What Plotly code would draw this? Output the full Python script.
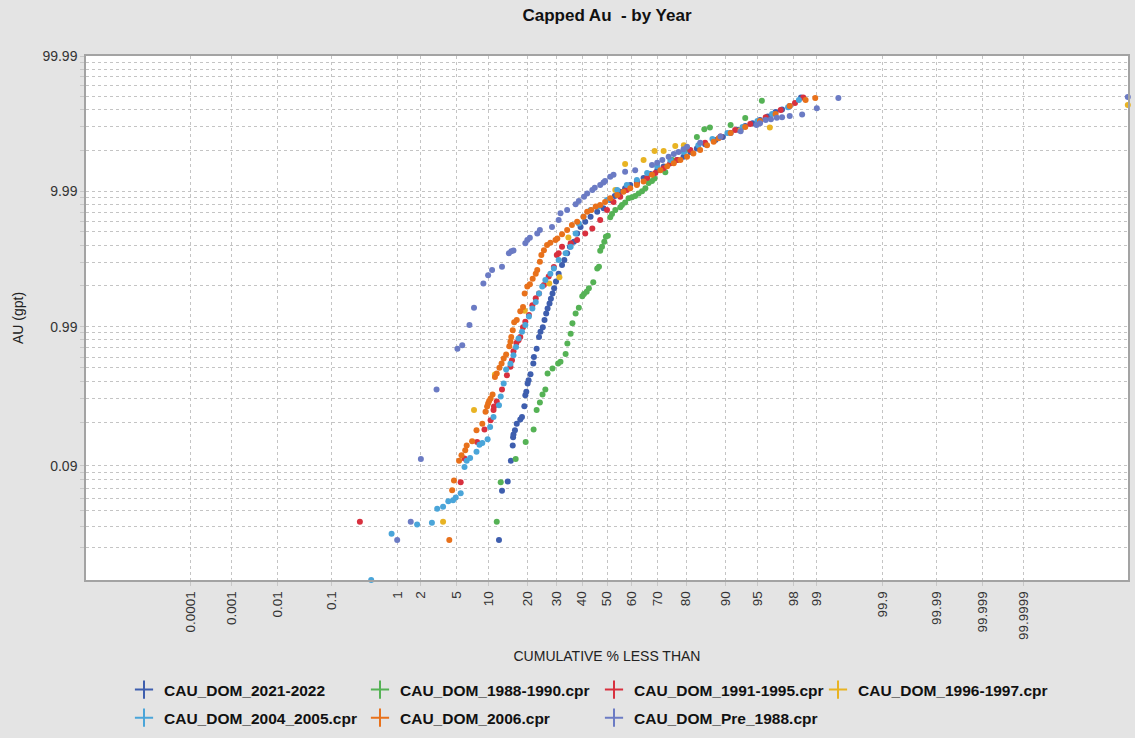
import math
from statistics import NormalDist

import numpy as np
import plotly.graph_objects as go

# ---------------------------------------------------------------------------
# Cumulative probability data: % of samples less than, and capped Au (gpt)
# ---------------------------------------------------------------------------
cum_2021_2022 = [12.2, 12.9, 14.3, 15.1, 15.6, 15.7, 15.8, 16.2, 16.7, 17.7,
                 18.2, 18.9, 19.2, 19.5, 19.9, 20.2, 20.8, 21.7, 21.9, 22.8,
                 23.6, 24.1, 24.9, 25.5, 26.1, 26.6, 27.3, 27.8, 28.4, 29.0,
                 29.7, 30.7, 32.0, 32.9, 34.0, 35.1, 36.7, 38.0, 39.4, 41.3,
                 43.5, 46.2, 48.7, 51.2, 53.0, 55.2, 57.2, 59.3, 62.0, 64.7,
                 67.4, 70.0, 72.4, 74.8, 77.1, 79.2, 81.3, 83.2, 85.4, 87.9,
                 89.5, 91.0, 92.3, 93.4, 94.4, 95.3, 96.1, 96.8, 97.3, 97.8,
                 98.4]
au_2021_2022 = [0.023, 0.0575, 0.068, 0.098, 0.128, 0.148, 0.155, 0.167, 0.187, 0.201,
                0.21, 0.253, 0.306, 0.325, 0.375, 0.396, 0.44, 0.528, 0.59, 0.68,
                0.83, 0.91, 0.98, 1.11, 1.24, 1.35, 1.47, 1.60, 1.75, 1.91,
                2.14, 2.45, 2.84, 3.09, 3.47, 3.87, 4.23, 4.87, 5.44, 5.93,
                6.47, 7.05, 7.47, 8.59, 9.2, 9.9, 10.5, 11.1, 11.8, 12.5,
                13.4, 14.3, 15.2, 16.1, 17.0, 18.0, 19.5, 20.7, 22.2, 23.9,
                25.2, 26.9, 28.5, 30.3, 31.8, 33.6, 35.7, 38.5, 40.2, 42.6,
                49.4]

cum_1988_1990 = [11.7, 12.6, 16.4, 19.3, 21.8, 22.8, 23.9, 24.8, 25.8, 26.6,
                 28.4, 30.5, 31.4, 33.4, 34.1, 35.4, 36.1, 37.4, 38.7, 40.1,
                 40.8, 41.9, 42.8, 44.6, 46.2, 46.9, 47.4, 48.1, 49.0, 49.6,
                 50.3, 51.2, 51.9, 53.2, 55.2, 55.9, 57.2, 58.6, 60.0, 61.3,
                 62.7, 64.1, 65.4, 66.7, 68.0, 69.0, 73.0, 75.5, 79.7, 83.2,
                 85.2, 86.6, 91.0, 93.4, 95.5]
au_1988_1990 = [0.0325, 0.067, 0.101, 0.136, 0.169, 0.237, 0.27, 0.31, 0.338, 0.445,
                0.485, 0.528, 0.543, 0.62, 0.745, 0.88, 1.05, 1.24, 1.37, 1.67,
                1.73, 1.80, 1.91, 2.12, 2.68, 2.76, 3.62, 3.87, 4.23, 4.60,
                4.67, 6.40, 6.77, 7.25, 7.60, 7.89, 8.26, 8.85, 9.0, 9.2,
                9.6, 10.0, 10.5, 11.5, 11.9, 12.4, 13.8, 17.0, 20.2, 25.2,
                28.7, 29.6, 30.9, 34.8, 46.6]

cum_1991_1995 = [0.29, 5.5, 6.0, 7.9, 9.2, 10.4, 11.0, 11.1, 11.7, 12.9,
                 14.1, 15.0, 15.4, 15.8, 16.6, 17.2, 17.7, 18.5, 19.2, 20.3,
                 21.4, 22.5, 23.6, 25.3, 27.0, 28.9, 30.0, 30.7, 32.0, 35.4,
                 38.0, 41.3, 44.2, 47.4, 50.0, 52.5, 55.2, 57.9, 62.0, 66.1,
                 69.3, 72.4, 74.8, 77.1, 81.3, 85.4, 89.0, 91.8, 94.1, 95.9,
                 97.2, 98.1, 98.5]
au_1991_1995 = [0.0325, 0.067, 0.102, 0.136, 0.169, 0.199, 0.237, 0.252, 0.275, 0.338,
                0.432, 0.499, 0.559, 0.65, 0.75, 0.787, 0.83, 0.98, 1.08, 1.21,
                1.43, 1.61, 1.75, 2.02, 2.33, 2.75, 3.37, 3.47, 3.87, 4.11,
                4.35, 4.87, 5.30, 6.11, 7.25, 8.33, 9.1, 10.2, 11.4, 12.5,
                13.6, 14.8, 16.1, 17.0, 20.2, 22.8, 25.4, 28.3, 31.4, 35.3,
                39.8, 44.9, 49.4]

cum_1996_1997 = [3.6, 7.4, 11.3, 19.0, 27.2, 31.0, 34.5, 53.2, 57.2, 64.7,
                 69.0, 72.4, 76.5, 79.3, 92.7, 96.3, 99.9999999]
au_1996_1997 = [0.0325, 0.237, 0.437, 1.30, 2.07, 2.31, 4.54, 10.2, 15.9, 17.0,
                19.8, 19.8, 21.6, 21.9, 28.3, 29.6, 43.4]

cum_2004_2005 = [0.43, 0.84, 1.8, 2.7, 3.1, 3.6, 4.1, 4.6, 4.9, 5.5,
                 6.0, 6.3, 6.8, 7.8, 8.3, 8.8, 9.8, 10.3, 11.0, 12.2,
                 12.6, 13.3, 13.9, 15.0, 15.8, 16.5, 17.2, 18.2, 19.2, 20.3,
                 21.4, 22.5, 23.6, 24.7, 25.8, 27.6, 28.9, 30.7, 33.4, 35.4,
                 37.4, 38.7, 40.6, 43.5, 46.7, 50.0, 54.0, 57.9, 62.0, 66.1,
                 70.0, 74.8, 79.3, 83.6, 87.2, 90.4, 93.0, 95.0, 96.5, 97.7,
                 98.3]
au_2004_2005 = [0.01, 0.026, 0.031, 0.032, 0.0415, 0.043, 0.0475, 0.0484, 0.051, 0.055,
                0.088, 0.098, 0.103, 0.115, 0.13, 0.134, 0.143, 0.177, 0.21, 0.258,
                0.30, 0.375, 0.477, 0.525, 0.609, 0.70, 0.81, 0.91, 1.02, 1.18,
                1.35, 1.51, 1.75, 1.97, 2.20, 2.45, 2.68, 3.09, 3.47, 3.87,
                4.87, 5.77, 6.47, 7.25, 7.70, 8.59, 10.2, 11.1, 12.1, 13.6,
                15.3, 17.0, 19.5, 21.9, 24.3, 26.9, 29.8, 33.0, 37.2, 41.8,
                47.2]

cum_2006 = [4.2, 4.5, 4.7, 5.3, 5.6, 6.1, 6.3, 7.1, 7.8, 8.8,
            9.4, 9.7, 9.9, 10.1, 10.4, 10.8, 11.3, 11.7, 12.3, 12.8,
            13.3, 13.9, 14.7, 15.0, 15.2, 15.6, 16.0, 16.7, 17.7, 18.5,
            19.0, 19.8, 20.6, 21.5, 22.5, 23.0, 23.9, 24.4, 25.3, 26.4,
            27.6, 29.5, 30.2, 32.0, 34.0, 35.9, 38.0, 40.6, 42.1, 43.8,
            45.6, 47.4, 49.3, 51.2, 54.0, 56.5, 59.3, 62.0, 64.7, 68.0,
            71.2, 73.7, 76.0, 78.2, 80.3, 82.2, 84.1, 85.9, 87.5, 88.6,
            91.0, 93.4, 95.3, 96.8, 97.8, 98.6, 98.95]
au_2006 = [0.023, 0.058, 0.069, 0.098, 0.108, 0.118, 0.128, 0.138, 0.167, 0.187,
           0.23, 0.252, 0.266, 0.277, 0.289, 0.31, 0.419, 0.445, 0.49, 0.528,
           0.576, 0.616, 0.71, 0.767, 0.83, 0.934, 1.07, 1.11, 1.29, 1.39,
           1.75, 1.97, 2.05, 2.25, 2.45, 2.61, 3.0, 3.37, 3.66, 3.99,
           4.16, 4.35, 4.47, 4.8, 5.15, 5.61, 5.93, 6.47, 7.05, 7.25,
           7.70, 7.89, 8.33, 8.85, 9.36, 9.9, 10.5, 11.1, 11.8, 13.2,
           14.3, 15.3, 16.1, 17.0, 18.0, 19.0, 20.2, 21.9, 23.2, 24.6,
           26.9, 29.8, 33.0, 37.2, 42.6, 47.2, 48.9]

cum_pre_1988 = [1.0, 1.5, 2.0, 3.05, 5.1, 5.7, 6.7, 7.4, 9.0, 9.9,
                10.7, 12.9, 14.6, 15.2, 15.8, 19.2, 19.8, 20.6, 23.0, 23.9,
                28.2, 30.7, 31.4, 34.0, 37.4, 38.7, 40.8, 42.1, 44.2, 45.2,
                47.4, 48.7, 49.3, 51.2, 52.5, 57.2, 61.3, 68.0, 70.0, 71.9,
                74.2, 76.0, 77.6, 79.2, 80.3, 84.1, 89.0, 92.7, 94.9, 95.3,
                95.9, 96.4, 96.9, 97.3, 97.8, 98.45, 99.0, 99.5, 99.9999999]
au_pre_1988 = [0.023, 0.0325, 0.101, 0.338, 0.68, 0.723, 1.02, 1.37, 2.07, 2.39,
               2.61, 2.76, 3.47, 3.59, 3.64, 4.11, 4.35, 4.52, 4.87, 5.15,
               5.44, 6.11, 6.85, 7.25, 8.0, 8.45, 9.1, 9.6, 10.2, 10.6,
               11.1, 11.6, 11.9, 12.8, 13.2, 13.9, 14.3, 15.6, 16.2, 17.0,
               18.0, 18.8, 19.5, 20.4, 21.3, 22.8, 25.4, 27.8, 30.9, 31.8,
               33.6, 34.0, 35.0, 35.2, 36.0, 36.9, 41.1, 48.9, 49.7]

series_names = ["CAU_DOM_2021-2022", "CAU_DOM_1988-1990.cpr", "CAU_DOM_1991-1995.cpr",
                "CAU_DOM_1996-1997.cpr", "CAU_DOM_2004_2005.cpr", "CAU_DOM_2006.cpr",
                "CAU_DOM_Pre_1988.cpr"]
series_cum = [cum_2021_2022, cum_1988_1990, cum_1991_1995, cum_1996_1997,
              cum_2004_2005, cum_2006, cum_pre_1988]
series_au = [au_2021_2022, au_1988_1990, au_1991_1995, au_1996_1997,
             au_2004_2005, au_2006, au_pre_1988]
series_colors = ["#3e5eae", "#55b255", "#d8303e", "#e8b323",
                 "#4aa5d9", "#e8711b", "#6b7bc4"]

x_tick_pct = [0.0001, 0.001, 0.01, 0.1, 1, 2, 5, 10, 20, 30, 40, 50, 60, 70,
              80, 90, 95, 98, 99, 99.9, 99.99, 99.999, 99.9999]
x_tick_labels = ["0.0001", "0.001", "0.01", "0.1", "1", "2", "5", "10", "20",
                 "30", "40", "50", "60", "70", "80", "90", "95", "98", "99",
                 "99.9", "99.99", "99.999", "99.9999"]
y_label_values = [99.99, 9.99, 0.99, 0.09]
y_labels = ["99.99", "9.99", "0.99", "0.09"]

# ---------------------------------------------------------------------------
# Axis transforms
# ---------------------------------------------------------------------------
_nd = NormalDist()
SCORE_POWER = 0.96      # slight compression of the normal-score tails
Z_LIMIT = 6.0           # probability axis spans +/- 6 normal scores
Y_SHIFT = 0.0033        # log axis is drawn on (Au + shift)


def prob_scale(pct):
    z = np.array([_nd.inv_cdf(p / 100.0) for p in pct])
    return np.sign(z) * np.abs(z) ** SCORE_POWER


def log_shift(vals):
    return np.asarray(vals, dtype=float) + Y_SHIFT


x_lim = Z_LIMIT ** SCORE_POWER

# horizontal grid: one line per (j * 10^k - 0.01), labels at the decade lines
y_grid = []
for k in (-2, -1, 0, 1):
    for j in range(2, 11):
        v = round(j * 10.0 ** k - 0.01, 4)
        if 0.011 < v < 99.99 and v not in y_grid:
            y_grid.append(v)
y_grid = sorted(set(y_grid) | set(y_label_values))
y_grid_text = [y_labels[y_label_values.index(v)] if v in y_label_values else ""
               for v in y_grid]

FONT = "Liberation Sans, Arial, sans-serif"
GRID = "#c4c4c4"
FRAME = "#a3a3a3"

fig = go.Figure()

for name, cum, au, col in zip(series_names, series_cum, series_au, series_colors):
    fig.add_trace(go.Scatter(
        x=prob_scale(cum), y=log_shift(au), mode="markers", name=name,
        marker=dict(color=col, size=6, line=dict(width=0)),
        cliponaxis=False, showlegend=False, hoverinfo="skip"))

# legend entries: four columns, "+" symbols
legend_cols = [["CAU_DOM_2021-2022", "CAU_DOM_2004_2005.cpr"],
               ["CAU_DOM_1988-1990.cpr", "CAU_DOM_2006.cpr"],
               ["CAU_DOM_1991-1995.cpr", "CAU_DOM_Pre_1988.cpr"],
               ["CAU_DOM_1996-1997.cpr"]]
legend_ids = ["legend", "legend2", "legend3", "legend4"]
legend_x_px = [124, 360, 594, 818]

for col_names, lid in zip(legend_cols, legend_ids):
    for name in col_names:
        col = series_colors[series_names.index(name)]
        fig.add_trace(go.Scatter(
            x=[None], y=[None], mode="markers", name=f"<b>{name}</b>",
            legend=lid, legendgroup=name,
            marker=dict(symbol="cross-thin", size=13, color=col,
                        line=dict(width=2, color=col))))

plot_l, plot_r, plot_t, plot_b = 86, 1128, 56, 580
W, H = 1135, 738
pw = plot_r - plot_l

legend_top_py = 673
legend_common = dict(orientation="v", xanchor="left", yanchor="top",
                     xref="container", yref="container",
                     y=1 - legend_top_py / H,
                     bgcolor="rgba(0,0,0,0)", borderwidth=0,
                     tracegroupgap=5, itemwidth=30,
                     font=dict(family=FONT, size=15.5, color="#111111"))
legend_layout = {}
for lid, xpx in zip(legend_ids, legend_x_px):
    legend_layout[lid] = dict(legend_common, x=xpx / W)

fig.update_layout(
    width=W, height=H,
    margin=dict(l=plot_l, r=W - plot_r, t=plot_t, b=H - plot_b, pad=0,
                autoexpand=False),
    paper_bgcolor="#e4e4e4", plot_bgcolor="#ffffff",
    font=dict(family=FONT, size=14, color="#222222"),
    title=dict(text="<b>Capped Au  - by Year</b>", x=0.5, xref="paper",
               xanchor="center", y=1 - 15 / H, yref="container", yanchor="middle",
               font=dict(family=FONT, size=17, color="#111111")),
    showlegend=True,
    annotations=[dict(text="AU (gpt)", textangle=-90, showarrow=False,
                      xref="paper", yref="paper", x=(18 - plot_l) / pw, y=0.5,
                      xanchor="center", yanchor="middle",
                      font=dict(family=FONT, size=14, color="#222222"))],
    **legend_layout,
)

fig.update_xaxes(
    range=[-x_lim, x_lim], tickmode="array", automargin=True,
    tickvals=prob_scale(x_tick_pct), ticktext=x_tick_labels,
    tickangle=-90, tickfont=dict(family=FONT, size=13.5, color="#333333"),
    ticks="outside", ticklen=4, tickcolor="#c8c8c8",
    showgrid=True, gridcolor=GRID, griddash="dot", gridwidth=1,
    zeroline=False, showline=True, mirror=True, linecolor=FRAME, linewidth=1.5,
    title=dict(text="CUMULATIVE % LESS THAN", standoff=12,
               font=dict(family=FONT, size=14, color="#222222")),
)

fig.update_yaxes(
    type="log", automargin=True,
    range=[math.log10(0.01 + Y_SHIFT), math.log10(99.99 + Y_SHIFT)],
    tickmode="array", tickvals=log_shift(y_grid), ticktext=y_grid_text,
    tickfont=dict(family=FONT, size=14, color="#333333"),
    ticks="outside", ticklen=4, tickcolor="#c8c8c8",
    showgrid=True, gridcolor=GRID, griddash="dot", gridwidth=1,
    zeroline=False, showline=True, mirror=True, linecolor=FRAME, linewidth=1.5,
)

fig.write_html("out.html")
